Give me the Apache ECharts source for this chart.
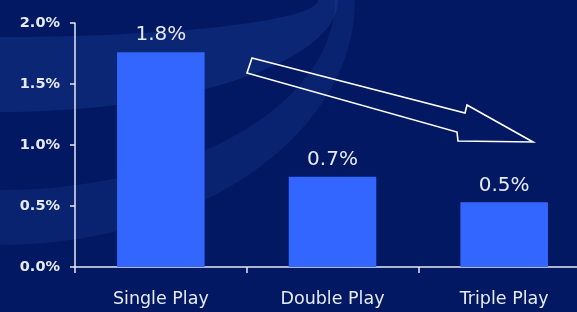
<!DOCTYPE html>
<html>
<head>
<meta charset="utf-8">
<script src="https://cdn.jsdelivr.net/npm/echarts@6/dist/echarts.min.js"></script>
<style>html,body{margin:0;padding:0;background:#021862;}#c{width:577px;height:312px;}</style>
</head>
<body>
<div id="c"></div>
<script>
const categories = ['Single Play', 'Double Play', 'Triple Play'];
const values = [1.76, 0.74, 0.53];
const valueLabels = ['1.8%', '0.7%', '0.5%'];
const yTicks = ['0.0%', '0.5%', '1.0%', '1.5%', '2.0%'];

// decorative background swoosh: ring between two ellipse quadrants centred at top-left
function swoosh(rx1, ry1, rx2, ry2) {
  const pts = [];
  const n = 40;
  for (let i = 0; i <= n; i++) {
    const a = (Math.PI / 2) * (i / n);
    pts.push([rx1 * Math.sin(a), ry1 * Math.cos(a)]);
  }
  for (let i = n; i >= 0; i--) {
    const a = (Math.PI / 2) * (i / n);
    pts.push([rx2 * Math.sin(a), ry2 * Math.cos(a)]);
  }
  return pts;
}

const chart = echarts.init(document.getElementById('c'));
const txt = '#e6eaf4';
chart.setOption({
  backgroundColor: '#021862',
  animation: false,
  grid: { left: 75, right: -13, top: 23, bottom: 45, containLabel: false, outerBoundsMode: 'none' },
  xAxis: {
    type: 'category',
    data: categories,
    axisLine: { lineStyle: { color: txt, width: 1.5 } },
    axisTick: { show: true, length: 6, lineStyle: { color: txt, width: 1.5 } },
    axisLabel: { color: txt, fontSize: 17.5, fontFamily: 'DejaVu Sans', margin: 23 }
  },
  yAxis: {
    type: 'value',
    min: 0, max: 2, interval: 0.5,
    axisLine: { show: true, lineStyle: { color: txt, width: 1.5 } },
    axisTick: { show: true, length: 5, lineStyle: { color: txt, width: 1.5 } },
    splitLine: { show: false },
    axisLabel: {
      color: txt, fontSize: 14.5, fontWeight: 'bold', fontFamily: 'DejaVu Sans', margin: 15,
      formatter: (v) => yTicks[Math.round(v / 0.5)]
    }
  },
  series: [{
    type: 'bar',
    data: values,
    barWidth: '51%',
    itemStyle: { color: '#3366ff' },
    label: {
      show: true, position: 'top', distance: 7,
      color: txt, fontSize: 20, fontFamily: 'DejaVu Sans',
      formatter: (p) => valueLabels[p.dataIndex]
    }
  }],
  graphic: [
    { type: 'polygon', z: -10, silent: true,
      shape: { points: swoosh(318, 37, 338, 112) },
      style: { fill: 'rgba(40,80,170,0.26)' } },
    { type: 'polygon', z: -10, silent: true,
      shape: { points: swoosh(335, 190, 355, 245) },
      style: { fill: 'rgba(40,80,170,0.2)' } },
    { type: 'polygon', z: 10, silent: true,
      shape: { points: [[252, 58], [465, 113], [467, 105], [533, 142], [458, 141], [457, 132], [247, 73]] },
      style: { fill: 'none', stroke: '#ffffff', lineWidth: 1.6 } }
  ]
});
</script>
</body>
</html>
